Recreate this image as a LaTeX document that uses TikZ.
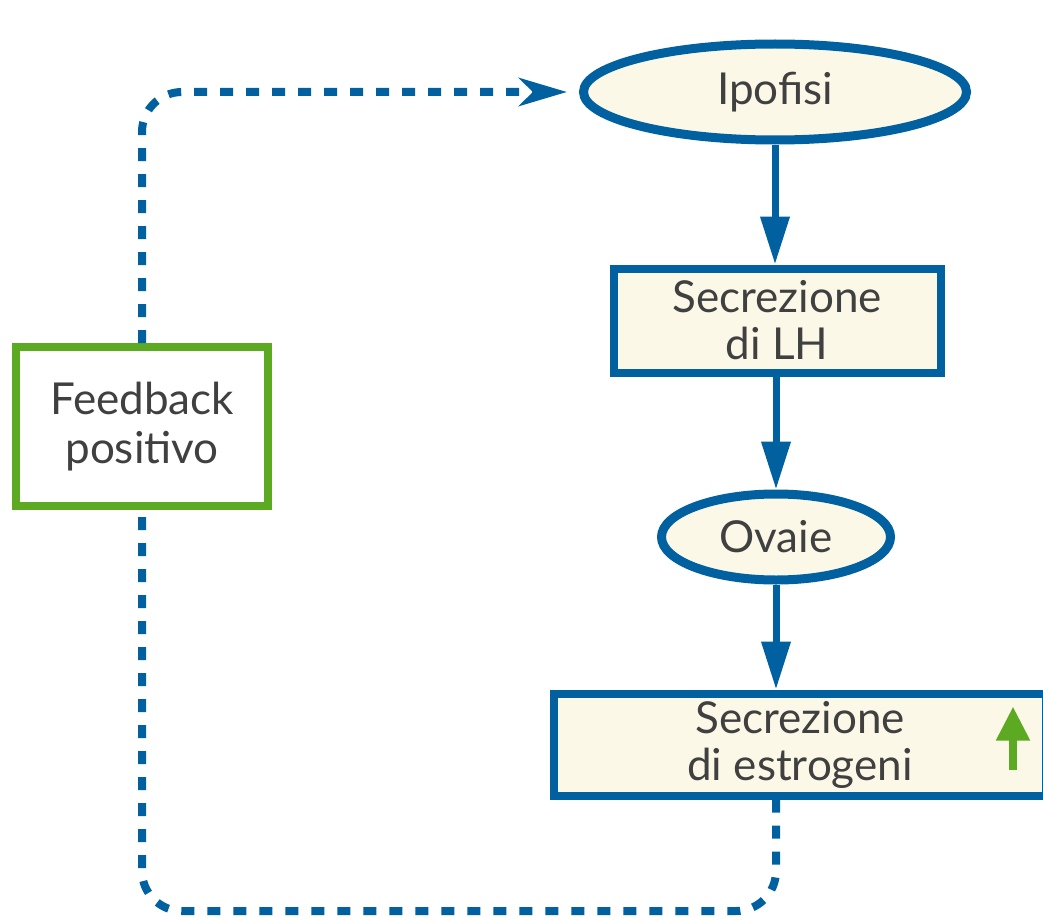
\documentclass[tikz,border=0pt]{standalone}
\usepackage{fontspec}
\setmainfont{Lato}
\usetikzlibrary{positioning,shapes.geometric,arrows.meta}
\definecolor{hormblue}{RGB}{0,96,160}
\definecolor{fbgreen}{RGB}{92,170,34}
\definecolor{cream}{RGB}{252,248,232}
\definecolor{txtgray}{RGB}{64,64,64}

\begin{document}
\begin{tikzpicture}[
  x=0.5pt, y=-0.5pt,
  node distance=56pt,
  organ/.style={ellipse, draw=hormblue, line width=4.5pt, fill=cream,
                inner sep=0pt, text=txtgray, font=\fontsize{22}{23.5}\selectfont},
  secretion/.style={rectangle, draw=hormblue, line width=4pt, fill=cream,
                    inner sep=0pt, align=center, text=txtgray,
                    font=\fontsize{22}{23.5}\selectfont},
  loopbox/.style={rectangle, draw=fbgreen, line width=4pt, fill=white,
                  inner sep=0pt, align=center, text=txtgray,
                  minimum width=126pt, minimum height=79.5pt,
                  font=\fontsize{22}{24.5}\selectfont},
  flow/.style={-{Triangle[length=24pt, width=14pt]}, hormblue, line width=3.5pt},
  feedbackline/.style={hormblue, line width=4pt, dash pattern=on 6.5pt off 6.5pt,
                       rounded corners=20pt},
  rise/.style={-{Triangle[length=17pt, width=16pt]}, fbgreen, line width=4pt}
]
\useasboundingbox (0,0) rectangle (1043,920);

\node[organ, minimum width=191.5pt, minimum height=48pt] (ipofisi) at (775,92) {Ipofisi};
\node[secretion, minimum width=163.5pt, minimum height=52pt,
      below=60pt of ipofisi, xshift=1pt] (lh) {Secrezione\\di LH};
\node[organ, minimum width=114.5pt, minimum height=43pt,
      below=56.5pt of lh, xshift=-0.5pt] (ovaie) {Ovaie};
\node[secretion, minimum width=246pt, minimum height=51pt,
      below=52.5pt of ovaie, xshift=12pt] (estrogeni) {Secrezione\\di estrogeni};
\node[loopbox] (feedback) at (142,426.5) {Feedback\\positivo};

\coordinate (loopbase) at (460,911);

% asse principale
\draw[flow] (ipofisi.south) -- (ipofisi.south |- lh.north);
\draw[flow] (ovaie.north |- lh.south) -- (ovaie.north);
\draw[flow] (ovaie.south) -- (ovaie.south |- estrogeni.north);

% aumento
\draw[rise] ([shift={(-37,25)}]estrogeni.east) -- ++(0,-63);

% anello di retroazione
\draw[feedbackline] (estrogeni.south -| ovaie.south) |- (feedback.south |- loopbase)
  -- (feedback.south);
\draw[feedbackline, -{Stealth[length=24pt, width=14pt, inset=7pt]}, shorten >=6pt]
  (feedback.north) |- (ipofisi.west);
\end{tikzpicture}
\end{document}
